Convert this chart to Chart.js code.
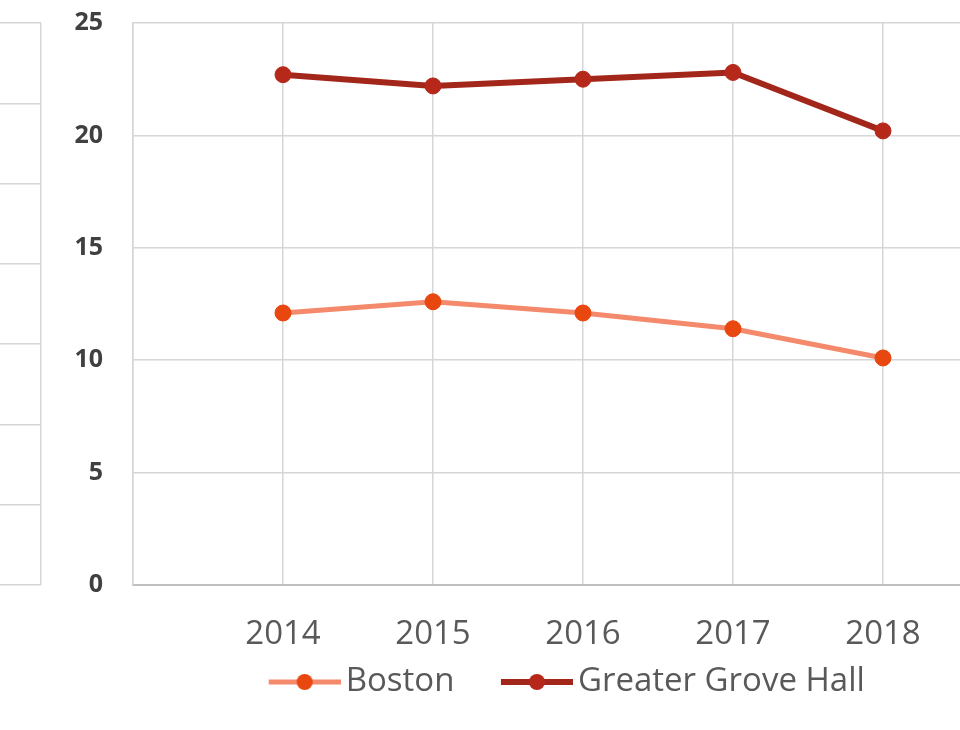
<!DOCTYPE html>
<html lang="en">
<head>
    <meta charset="UTF-8">
    <title>Boston vs Greater Grove Hall</title>
    <script src="https://cdn.jsdelivr.net/npm/chart.js"></script>
    <style>
        html, body {
            margin: 0;
            padding: 0;
            background: #fff;
            width: 960px;
            height: 730px;
            overflow: hidden;
            position: relative;
        }
        #sideChart { position: absolute; left: -200px; top: 0; }
        #mainChart { position: absolute; left: 0; top: 0; }
    </style>
</head>
<body>
    <canvas id="sideChart" width="242" height="730"></canvas>
    <canvas id="mainChart" width="1144" height="730"></canvas>

    <script>
        // Data
        const years = ['', '2014', '2015', '2016', '2017', '2018', ''];
        const boston = [null, 12.1, 12.6, 12.1, 11.4, 10.1, null];
        const groveHall = [null, 22.7, 22.2, 22.5, 22.8, 20.2, null];
        const yTicks = [0, 5, 10, 15, 20, 25];

        const gridColor = '#d6d6d6';
        const font = "'Open Sans', 'Liberation Sans', sans-serif";

        // Legend symbol: a short line with a dot in the middle
        function legendIcon(lineColor, dotColor, lineWidth) {
            const c = document.createElement('canvas');
            c.width = 120;
            c.height = 20;
            const ctx = c.getContext('2d');
            ctx.strokeStyle = lineColor;
            ctx.lineWidth = lineWidth;
            ctx.beginPath();
            ctx.moveTo(48, 10);
            ctx.lineTo(120, 10);
            ctx.stroke();
            ctx.fillStyle = dotColor;
            ctx.beginPath();
            ctx.arc(84, 10, 8, 0, Math.PI * 2);
            ctx.fill();
            return c;
        }
        const icons = [
            legendIcon('#f4896b', '#e8470f', 5),
            legendIcon('#a3261b', '#b5281a', 6)
        ];

        // Empty grid of the neighbouring panel on the left
        new Chart(document.getElementById('sideChart'), {
            type: 'line',
            data: { datasets: [] },
            options: {
                responsive: false,
                animation: false,
                layout: { padding: { top: 23, bottom: 145, left: 0, right: 1 } },
                plugins: { legend: { display: false }, tooltip: { enabled: false } },
                scales: {
                    x: {
                        type: 'linear', min: 0, max: 1,
                        ticks: { display: false, stepSize: 1 },
                        grid: { color: gridColor, lineWidth: 1.5, drawTicks: false },
                        border: { display: false }
                    },
                    y: {
                        type: 'linear', min: 0, max: 7,
                        ticks: { display: false, stepSize: 1 },
                        grid: { color: gridColor, lineWidth: 1.5, drawTicks: false },
                        border: { display: false }
                    }
                }
            }
        });

        new Chart(document.getElementById('mainChart'), {
            type: 'line',
            data: {
                labels: years,
                datasets: [{
                    label: 'Boston',
                    data: boston,
                    borderColor: '#f4896b',
                    borderWidth: 5,
                    pointBackgroundColor: '#e8470f',
                    pointBorderColor: '#e8470f',
                    pointRadius: 8,
                    pointBorderWidth: 1,
                    tension: 0
                }, {
                    label: 'Greater Grove Hall',
                    data: groveHall,
                    borderColor: '#a3261b',
                    borderWidth: 6,
                    pointBackgroundColor: '#b5281a',
                    pointBorderColor: '#b5281a',
                    pointRadius: 8,
                    pointBorderWidth: 1,
                    tension: 0
                }]
            },
            options: {
                responsive: false,
                animation: false,
                layout: { padding: { top: 23, bottom: 21.5, left: 64, right: 111 } },
                plugins: {
                    tooltip: { enabled: false },
                    legend: {
                        position: 'bottom',
                        labels: {
                            usePointStyle: true,
                            pointStyleWidth: 97,
                            boxHeight: 20,
                            padding: 10,
                            color: '#595959',
                            font: { family: font, size: 33 },
                            generateLabels(chart) {
                                const items = Chart.defaults.plugins.legend.labels.generateLabels(chart);
                                items.forEach((item, i) => { item.pointStyle = icons[i]; });
                                return items;
                            }
                        }
                    }
                },
                scales: {
                    x: {
                        offset: false,
                        grid: { color: gridColor, lineWidth: 1.5, drawTicks: false },
                        border: { color: '#bfbfbf', width: 2 },
                        ticks: {
                            color: '#595959',
                            padding: 30,
                            maxRotation: 0,
                            autoSkip: false,
                            font: { family: font, size: 33 }
                        },
                        afterFit(scale) { scale.height = 70.5; }
                    },
                    y: {
                        min: 0,
                        max: 25,
                        afterBuildTicks(scale) {
                            scale.ticks = yTicks.map(v => ({ value: v }));
                        },
                        // invisible tick marks keep the labels clear of the axis
                        grid: {
                            color: gridColor, lineWidth: 1.5,
                            drawTicks: true, tickLength: 22, tickColor: 'rgba(0,0,0,0)'
                        },
                        border: { color: gridColor, width: 1.5 },
                        ticks: {
                            color: '#404040',
                            padding: 8,
                            font: { family: font, size: 25, weight: 'bold' }
                        },
                        afterFit(scale) { scale.width = 69; }
                    }
                }
            }
        });
    </script>
</body>
</html>
